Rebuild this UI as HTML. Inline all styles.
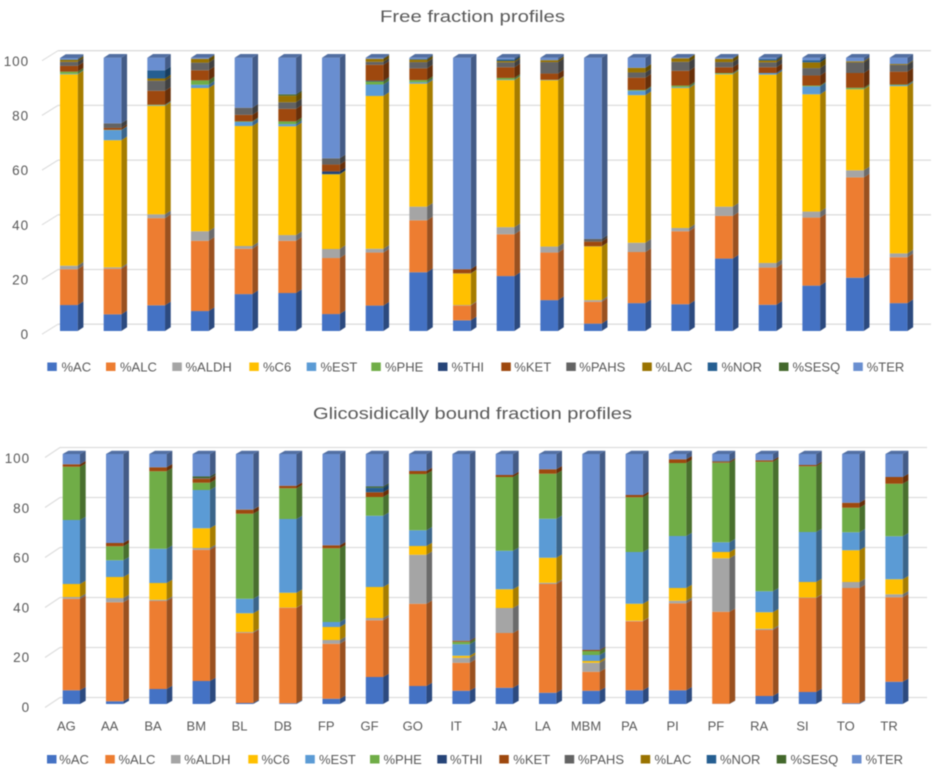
<!DOCTYPE html>
<html lang="en">
<head>
<meta charset="utf-8">
<title>Free and glicosidically bound fraction profiles</title>
<style>
html,body{margin:0;padding:0;background:#fff;}
body{width:942px;height:774px;overflow:hidden;}
svg{display:block;filter:blur(0.45px);font-family:"Liberation Sans",sans-serif;fill:#595959;}
.legend-label,.cat-label{font-size:13px;}
.tick-label{font-size:13.5px;letter-spacing:0.9px;}
.chart-title{font-size:16.5px;}
</style>
</head>
<body>
<svg id="figure" xmlns="http://www.w3.org/2000/svg" width="942" height="774" viewBox="0 0 942 774">
  <text class="chart-title" x="380" y="22" textLength="185" lengthAdjust="spacingAndGlyphs">Free fraction profiles</text>
  <g id="free-plot"></g>
  <g id="free-legend">
    <rect x="47.3" y="362.5" width="9.5" height="8.5" fill="#4472C4"/><text class="legend-label" x="61.5" y="371.5">%AC</text>
    <rect x="106" y="362.5" width="9.5" height="8.5" fill="#ED7D31"/><text class="legend-label" x="120" y="371.5">%ALC</text>
    <rect x="172.3" y="362.5" width="9.5" height="8.5" fill="#A5A5A5"/><text class="legend-label" x="185.5" y="371.5">%ALDH</text>
    <rect x="249.3" y="362.5" width="9.5" height="8.5" fill="#FFC000"/><text class="legend-label" x="263" y="371.5">%C6</text>
    <rect x="306.7" y="362.5" width="9.5" height="8.5" fill="#5B9BD5"/><text class="legend-label" x="320.5" y="371.5">%EST</text>
    <rect x="371.3" y="362.5" width="9.5" height="8.5" fill="#70AD47"/><text class="legend-label" x="385" y="371.5">%PHE</text>
    <rect x="438" y="362.5" width="9.5" height="8.5" fill="#264478"/><text class="legend-label" x="451.5" y="371.5">%THI</text>
    <rect x="501.3" y="362.5" width="9.5" height="8.5" fill="#9E480E"/><text class="legend-label" x="514.3" y="371.5">%KET</text>
    <rect x="566.3" y="362.5" width="9.5" height="8.5" fill="#636363"/><text class="legend-label" x="579.3" y="371.5">%PAHS</text>
    <rect x="642.3" y="362.5" width="9.5" height="8.5" fill="#997300"/><text class="legend-label" x="655.5" y="371.5">%LAC</text>
    <rect x="707.7" y="362.5" width="9.5" height="8.5" fill="#255E91"/><text class="legend-label" x="721.5" y="371.5">%NOR</text>
    <rect x="779" y="362.5" width="9.5" height="8.5" fill="#43682B"/><text class="legend-label" x="792.5" y="371.5">%SESQ</text>
    <rect x="853.3" y="362.5" width="9.5" height="8.5" fill="#698ED0"/><text class="legend-label" x="866.7" y="371.5">%TER</text>
  </g>
  <text class="chart-title" x="313" y="419" textLength="319" lengthAdjust="spacingAndGlyphs">Glicosidically bound fraction profiles</text>
  <g id="bound-plot"></g>
  <g id="bound-legend">
    <rect x="47" y="755" width="9.5" height="8.5" fill="#4472C4"/><text class="legend-label" x="59.3" y="764">%AC</text>
    <rect x="105.3" y="755" width="9.5" height="8.5" fill="#ED7D31"/><text class="legend-label" x="118.5" y="764">%ALC</text>
    <rect x="171" y="755" width="9.5" height="8.5" fill="#A5A5A5"/><text class="legend-label" x="184.3" y="764">%ALDH</text>
    <rect x="248.3" y="755" width="9.5" height="8.5" fill="#FFC000"/><text class="legend-label" x="261.5" y="764">%C6</text>
    <rect x="305.3" y="755" width="9.5" height="8.5" fill="#5B9BD5"/><text class="legend-label" x="319" y="764">%EST</text>
    <rect x="370" y="755" width="9.5" height="8.5" fill="#70AD47"/><text class="legend-label" x="383.5" y="764">%PHE</text>
    <rect x="437.3" y="755" width="9.5" height="8.5" fill="#264478"/><text class="legend-label" x="450" y="764">%THI</text>
    <rect x="499.3" y="755" width="9.5" height="8.5" fill="#9E480E"/><text class="legend-label" x="513.3" y="764">%KET</text>
    <rect x="564.7" y="755" width="9.5" height="8.5" fill="#636363"/><text class="legend-label" x="578" y="764">%PAHS</text>
    <rect x="640.7" y="755" width="9.5" height="8.5" fill="#997300"/><text class="legend-label" x="654.5" y="764">%LAC</text>
    <rect x="706.7" y="755" width="9.5" height="8.5" fill="#255E91"/><text class="legend-label" x="720" y="764">%NOR</text>
    <rect x="776.7" y="755" width="9.5" height="8.5" fill="#43682B"/><text class="legend-label" x="790.5" y="764">%SESQ</text>
    <rect x="852" y="755" width="9.5" height="8.5" fill="#698ED0"/><text class="legend-label" x="865.5" y="764">%TER</text>
  </g>
</svg>
<script>
var categories = ["AG","AA","BA","BM","BL","DB","FP","GF","GO","IT","JA","LA","MBM","PA","PI","PF","RA","SI","TO","TR"];
var tickLabels = [0,20,40,60,80,100];
var seriesNames = ["AC","ALC","ALDH","C6","EST","PHE","THI","KET","PAHS","LAC","NOR","SESQ","TER"];

var freeAC   = [9.5,6.1,9.4,7.3,13.5,13.9,6.2,9.3,21.5,3.9,20.1,11.3,2.7,10.2,9.8,26.5,9.6,16.6,19.5,10.2];
var freeALC  = [13.1,16.7,31.9,25.7,16.6,19.1,20.5,19.4,19,5.4,15.3,17.4,8,18.7,26.7,15.6,13.6,24.9,36.7,16.8];
var freeALDH = [1.3,0.5,1.4,3.5,1,2.1,3.3,1.4,5,0.2,2.6,2.2,0.6,3.4,1.2,3.4,1.7,2.2,2.6,1.4];
var freeC6   = [70,46.5,39.7,52.4,43.9,39.8,27.3,55.9,45,11.5,53.8,60.8,19.6,54,51.2,48.4,68.9,42.9,29.6,61.2];
var freeEST  = [0.2,3.7,0.2,1.2,1.5,0.8,0,4.2,0.5,0,0.2,0.1,0,1.6,0.3,0.2,0.6,2.9,0.1,0.4];
var freePHE  = [0.8,0.1,0.2,1.6,0.2,1,0.1,1.1,0.8,0.1,0.6,0.1,0.1,0.3,0.6,0.3,0,0.3,0.5,0.2];
var freeTHI  = [0,0,0,0,0,0,1,0.3,0,0,0,0,0,0,0,0,0,0,0,0];
var freeKET  = [2.1,0.7,5.1,3.7,2.4,4.6,2.5,5.8,4.3,1.5,3.9,2.3,1.7,4.5,5.4,2.1,2.1,3.7,5.4,4.7];
var freePAHS = [1.5,1.7,3.7,2.8,2.6,2.4,2.3,1.1,2.3,0,1.8,4.2,1,1.9,3.3,1.9,1.8,2.7,3.9,2.5];
var freeLAC  = [0.7,0,0.8,1.4,0,2.4,0,1.1,0.9,0,0.5,0.7,0,1.7,1.3,1.2,0.7,2.1,0.4,0.3];
var freeNOR  = [0.2,0,3,0,0,0,0,0,0.3,0,0.6,0,0,0,0,0,0.5,0.8,0,0];
var freeSESQ = [0,0,0,0,0,0.5,0,0,0,0,0,0,0,0,0,0,0,0,0,0];
var freeTER  = [0.5,24,4.6,0.4,18.3,13.4,36.8,0.4,0.4,77.4,0.6,0.9,66.3,3.7,0.2,0.4,0.5,0.9,1.3,2.3];

var boundAC   = [5.5,1.1,6,9.2,0.4,0.3,2.1,10.8,7.2,5.3,6.5,4.5,5.3,5.5,5.5,0.1,3.2,4.8,0.3,8.9];
var boundALC  = [36.6,39.6,35.2,52.5,28.1,38.2,22,22.7,32.9,11.2,21.9,43.5,7.6,27.6,34.8,36.8,26.4,37.6,46.1,33.8];
var boundALDH = [0.7,1.7,0.5,0.7,0.3,0.1,1.5,0.9,19.6,2,10,0.5,3.6,0.2,1,21.4,0.5,0.2,2.4,1.2];
var boundC6   = [5.2,8.4,6.7,7.9,7.5,5.9,5.2,12.4,3.5,0.8,7.5,10,0.7,6.8,5.1,2.5,6.6,6.2,12.7,6];
var boundEST  = [25.6,6.7,13.7,15.3,5.8,29.5,2,28.5,6.3,4.6,15.4,15.6,2.4,20.7,20.8,3.9,8.4,20,7.2,17.2];
var boundPHE  = [21.3,5.6,31,2.9,34,12.3,29.5,7.5,22.5,1,29.5,18,1.6,21.9,29.2,31.8,51.8,26.3,9.8,21];
var boundTHI  = [0,0,0,0,0,0,0,0,0,0,0,0,0,0,0,0,0,0,0,0];
var boundKET  = [1,1.3,1.6,1.6,1.6,1,1.2,1.9,1.2,0.4,0.8,1.8,0.4,0.9,1.5,0.4,0.6,0.5,2,2.7];
var boundPAHS = [0,0,0,0.3,0.2,0,0,0,0,0,0,0,0,0,0,0.3,0,0,0,0];
var boundLAC  = [0,0,0,0,0,0,0,0,0,0,0,0,0,0,0,0,0,0,0,0];
var boundNOR  = [0,0,0,0,0,0,0,1.8,0,0,0,0,0,0,0,0,0,0,0,0];
var boundSESQ = [0,0,0,0.6,0,0,0,0.5,0,0,0,0,0,0,0,0,0,0,0,0];
var boundTER  = [4.1,35.6,5.3,9,22.1,12.7,36.5,13,6.8,74.7,8.4,6.1,78.4,16.4,2.1,2.8,2.5,4.4,19.5,9.2];

var freeSeries = [freeAC,freeALC,freeALDH,freeC6,freeEST,freePHE,freeTHI,freeKET,freePAHS,freeLAC,freeNOR,freeSESQ,freeTER];
var boundSeries = [boundAC,boundALC,boundALDH,boundC6,boundEST,boundPHE,boundTHI,boundKET,boundPAHS,boundLAC,boundNOR,boundSESQ,boundTER];
var seriesColors = ["#4472C4","#ED7D31","#A5A5A5","#FFC000","#5B9BD5","#70AD47","#264478","#9E480E","#636363","#997300","#255E91","#43682B","#698ED0"];

var SVGNS = "http://www.w3.org/2000/svg";

function shade(hex, f) {
  var n = parseInt(hex.slice(1), 16);
  var r = Math.round(((n >> 16) & 255) * f);
  var g = Math.round(((n >> 8) & 255) * f);
  var b = Math.round((n & 255) * f);
  return "rgb(" + r + "," + g + "," + b + ")";
}

function drawChart(groupId, series, opts) {
  var group = document.getElementById(groupId);
  function xAxis(i) { return opts.barStart + opts.barStep * i; }
  function yAxis(v) { return opts.barBase - opts.barScale * v; }
  function gridY(v) { return opts.gridBase - opts.gridScale * v; }
  function tickY(v) { return opts.tickBase - opts.tickScale * v; }

  tickLabels.forEach(function (t) {
    var g = gridY(t);
    var line = document.createElementNS(SVGNS, "line");
    
    
    line.setAttribute("x1", opts.gridLeft);
    line.setAttribute("x2", opts.gridRight);
    line.setAttribute("y1", g);
    line.setAttribute("y2", g);
    line.setAttribute("stroke", "#DCDCDC");
    line.setAttribute("stroke-width", "1.3");
    group.appendChild(line);

    var diag = document.createElementNS(SVGNS, "line");
    
    
    diag.setAttribute("x1", opts.gridLeft - opts.wallDx);
    diag.setAttribute("x2", opts.gridLeft);
    diag.setAttribute("y1", g + opts.wallDy);
    diag.setAttribute("y2", g);
    diag.setAttribute("stroke", "#DCDCDC");
    diag.setAttribute("stroke-width", "1.1");
    group.appendChild(diag);

    var label = document.createElementNS(SVGNS, "text");
    
    
    label.setAttribute("class", "tick-label");
    label.setAttribute("x", opts.tickRight);
    label.setAttribute("y", tickY(t) + 4.8);
    label.setAttribute("text-anchor", "end");
    label.textContent = String(t);
    group.appendChild(label);
  });

  categories.forEach(function (cat, i) {
    var bar = document.createElementNS(SVGNS, "g");
    
    
    group.appendChild(bar);

    var x = xAxis(i);
    var cum = 0;
    var topColor = null;
    series.forEach(function (values, s) {
      var v = values[i];
      if (!(v > 0)) { return; }
      var y0 = yAxis(cum);
      var y1 = yAxis(cum + v);
      cum += v;
      topColor = seriesColors[s];

      var side = document.createElementNS(SVGNS, "polygon");
      
      
      side.setAttribute("points",
        (x + opts.barW) + "," + y0 + " " +
        (x + opts.barW + opts.depthX) + "," + (y0 - opts.depthY) + " " +
        (x + opts.barW + opts.depthX) + "," + (y1 - opts.depthY) + " " +
        (x + opts.barW) + "," + y1);
      side.setAttribute("fill", shade(seriesColors[s], 0.65));
      bar.appendChild(side);

      var front = document.createElementNS(SVGNS, "rect");
      
      
      front.setAttribute("x", x);
      front.setAttribute("y", y1);
      front.setAttribute("width", opts.barW);
      front.setAttribute("height", y0 - y1);
      front.setAttribute("fill", seriesColors[s]);
      bar.appendChild(front);
    });

    var yTop = yAxis(cum);
    var top = document.createElementNS(SVGNS, "polygon");
    
    
    top.setAttribute("points",
      x + "," + yTop + " " +
      (x + opts.depthX) + "," + (yTop - opts.depthY) + " " +
      (x + opts.barW + opts.depthX) + "," + (yTop - opts.depthY) + " " +
      (x + opts.barW) + "," + yTop);
    top.setAttribute("fill", shade(topColor || "#698ED0", 0.78));
    bar.appendChild(top);

    if (opts.showCategories) {
      var label = document.createElementNS(SVGNS, "text");
      
      
      label.setAttribute("class", "cat-label");
      label.setAttribute("x", x + 3.7);
      label.setAttribute("y", opts.catY);
      label.setAttribute("text-anchor", "middle");
      label.textContent = cat;
      group.appendChild(label);
    }
  });
}

drawChart("free-plot", freeSeries, {
  barStart: 60, barStep: 43.67, barW: 17.7, depthX: 5.7, depthY: 3.7,
  barBase: 331, barScale: 2.733,
  gridBase: 324.2, gridScale: 2.735, gridLeft: 58, gridRight: 931, wallDx: 16, wallDy: 10,
  tickBase: 334.3, tickScale: 2.733, tickRight: 29,
  showCategories: false
});

drawChart("bound-plot", boundSeries, {
  barStart: 62.7, barStep: 43.3, barW: 17.3, depthX: 5.7, depthY: 3.3,
  barBase: 704, barScale: 2.5,
  gridBase: 697.5, gridScale: 2.5, gridLeft: 60, gridRight: 927, wallDx: 15, wallDy: 10,
  tickBase: 707, tickScale: 2.487, tickRight: 30,
  showCategories: true, catY: 730.5
});
</script>
</body>
</html>
